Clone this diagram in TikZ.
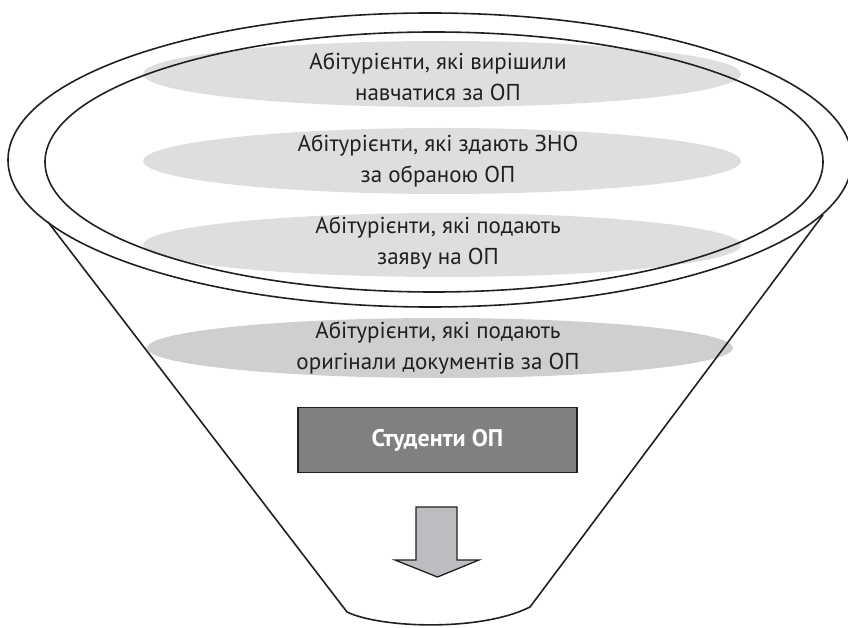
\documentclass[tikz,border=0pt]{standalone}
\usepackage{fontspec}
\setmainfont{PT Sans}
\usetikzlibrary{positioning}
\usetikzlibrary{calc}
\definecolor{bandgray}{RGB}{221,222,223}
\definecolor{banddark}{RGB}{206,207,209}
\definecolor{boxgray}{RGB}{128,128,130}
\definecolor{arrowgray}{RGB}{188,189,192}
\definecolor{inkline}{RGB}{35,31,32}

\begin{document}
\begin{tikzpicture}[
        x=1pt, y=-1pt,
        band/.style={fill=bandgray},
        bandtext/.style={align=center, inner sep=0pt, text=inkline, font=\fontsize{23}{31}\selectfont},
        rim/.style={draw=inkline, line width=1.6pt},
        stud/.style={draw=inkline, line width=1.4pt, fill=boxgray, minimum width=279pt, minimum height=65pt, text=white, font=\fontsize{24}{28}\selectfont\bfseries},
        downarrow/.style={draw=inkline, line width=1.3pt, fill=arrowgray, line join=miter}
    ]
        \useasboundingbox (0,0) rectangle (848,628);

        % gray bands
        \fill[band] (442,74) ellipse [x radius=299, y radius=33];
        \fill[band] (442,161) ellipse [x radius=299, y radius=33];
        \fill[band] (442,245) ellipse [x radius=299, y radius=32];
        \fill[band, fill=banddark] (440,348) ellipse [x radius=293, y radius=30];

        % rims of the funnel
        \draw[rim] (430,160) ellipse [x radius=422, y radius=147];
        \draw[rim] (434,162) ellipse [x radius=389, y radius=130];

        \coordinate (fl) at (48,222);
        \coordinate (fr) at (823,215);
        \coordinate (bl) at (347,612);
        \coordinate (br) at (530,607);
        \draw[rim, line join=round] (fl) -- (bl) .. controls (380,628) and (480,632) .. (br) -- (fr);

        \node[bandtext] (t1) at (438,77) {Абітурієнти, які вирішили\\навчатися за ОП};
        \node[bandtext] (t2) at (438,161) {Абітурієнти, які здають ЗНО\\за обраною ОП};
        \node[bandtext] (t3) at (438,243) {Абітурієнти, які подають\\заяву на ОП};
        \node[bandtext] (t4) at (438,348) {Абітурієнти, які подають\\оригінали документів за ОП};

        \node[stud] (st) at (437.5,440) {Студенти ОП};

        \coordinate (tip) at (437.5,577);
        \draw[downarrow] (tip) -- ++(-42.5,-17) -- ++(21,0) -- ++(0,-53) -- ++(41,0)
            -- ++(0,53) -- ++(22,0) -- cycle;
    \end{tikzpicture}
\end{document}
